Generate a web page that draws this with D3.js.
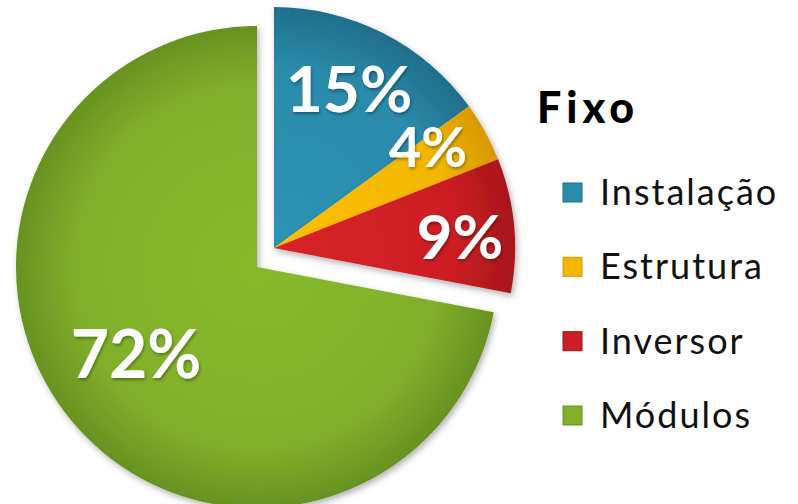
<!DOCTYPE html>
<html><head><meta charset="utf-8">
<script src="https://cdn.jsdelivr.net/npm/d3@7"></script>
<style>html,body{margin:0;padding:0;background:#fff;}svg{display:block;}</style>
</head><body>
<script>
const title = "Fixo";
const categories = ["Instalação", "Estrutura", "Inversor", "Módulos"];
const values = [15, 4, 9, 72];
const labels = ["15%", "4%", "9%", "72%"];
const colors = ["#2b8bab", "#f2b705", "#cc1f24", "#80b02a"];
const darkColors = ["#1f6f8c", "#d99a00", "#a8161a", "#679322"];

const W = 798, H = 504;
const svg = d3.select("body").append("svg").attr("width", W).attr("height", H);
const defs = svg.append("defs");

const f = defs.append("filter").attr("id","sh").attr("x","-20%").attr("y","-20%").attr("width","140%").attr("height","140%");
f.append("feDropShadow").attr("dx",2).attr("dy",3).attr("stdDeviation",3).attr("flood-color","#000").attr("flood-opacity",0.3);
const tf = defs.append("filter").attr("id","tsh").attr("x","-20%").attr("y","-20%").attr("width","140%").attr("height","140%");
tf.append("feDropShadow").attr("dx",1).attr("dy",2).attr("stdDeviation",1.5).attr("flood-color","#000").attr("flood-opacity",0.35);

colors.forEach((c,i)=>{
  const g = defs.append("radialGradient").attr("id","g"+i)
    .attr("gradientUnits","userSpaceOnUse").attr("cx",0).attr("cy",0).attr("r",240);
  g.append("stop").attr("offset","0%").attr("stop-color", d3.color(c).brighter(0.15));
  g.append("stop").attr("offset","75%").attr("stop-color", c);
  g.append("stop").attr("offset","100%").attr("stop-color", darkColors[i]);
});

const cx = 257, cy = 267, R = 241;
const explode = {dx: 17, dy: -19};

const pie = d3.pie().sort(null).value(d=>d)(values);
const arc = d3.arc().innerRadius(0).outerRadius(R);

const gPie = svg.append("g").attr("transform",`translate(${cx},${cy})`);
pie.forEach((p,i)=>{
  const ex = i < 3;
  gPie.append("path")
    .attr("d", arc(p))
    .attr("transform", ex ? `translate(${explode.dx},${explode.dy})` : null)
    .attr("fill", `url(#g${i})`)
    .attr("filter","url(#sh)");
});

// labels
const labelPos = [
  {x: 349, y: 112, s: 64},
  {x: 428, y: 167, s: 56},
  {x: 460, y: 259, s: 62},
  {x: 136, y: 378, s: 66}
];
labels.forEach((t,i)=>{
  svg.append("text").attr("x", labelPos[i].x).attr("y", labelPos[i].y)
    .attr("text-anchor","middle")
    .attr("font-family","Lato, 'Open Sans', sans-serif").attr("font-weight","bold")
    .attr("font-size", labelPos[i].s).attr("fill","#fff")
    .attr("filter","url(#tsh)")
    .text(t);
});

// legend
svg.append("text").attr("x",537).attr("y",123)
  .attr("font-family","Lato, 'Open Sans', sans-serif").attr("font-weight","900")
  .attr("font-size",43).attr("letter-spacing",5).attr("fill","#000").text(title);

const ly = d3.scalePoint().domain(categories).range([205, 428]);
categories.forEach((c,i)=>{
  const y = ly(c);
  svg.append("rect").attr("x",563).attr("y",y-22).attr("width",19).attr("height",19)
    .attr("fill",colors[i]).attr("stroke",darkColors[i]).attr("stroke-width",1);
  svg.append("text").attr("x",600).attr("y",y)
    .attr("font-family","Lato, 'Open Sans', sans-serif")
    .attr("font-size",36).attr("letter-spacing",2).attr("fill","#111").text(c);
});
</script>
</body></html>
